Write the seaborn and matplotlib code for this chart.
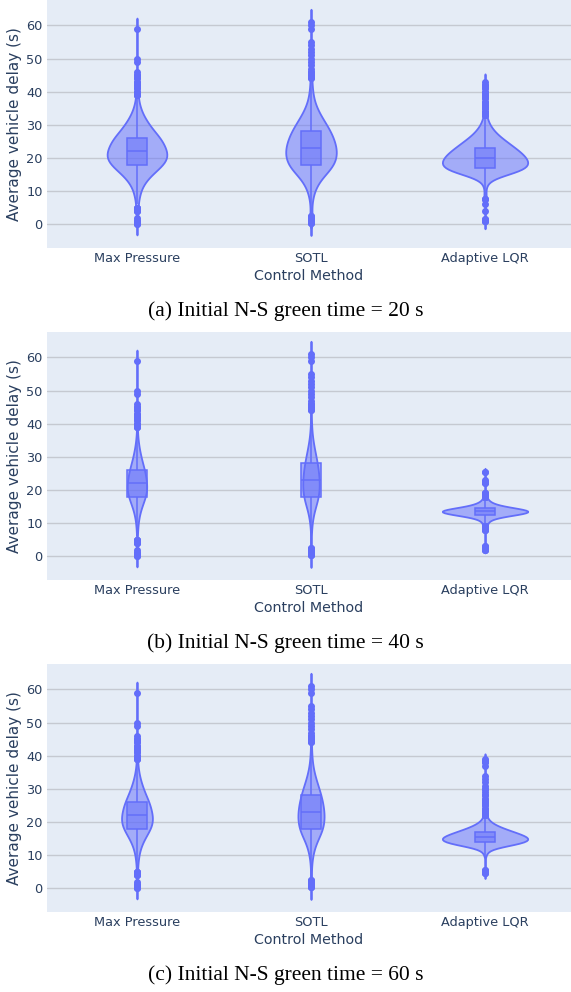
import numpy as np
import pandas as pd
import seaborn as sns
import matplotlib.pyplot as plt
from matplotlib.colors import to_rgb


methods = ["Max Pressure", "SOTL", "Adaptive LQR"]
captions = [
    "(a) Initial N-S green time = 20 s",
    "(b) Initial N-S green time = 40 s",
    "(c) Initial N-S green time = 60 s",
]

# delay values (s) and how often they occur
# Max Pressure and SOTL are the same in all three runs
mp_delay = [0, 1, 2, 4, 5, 6, 7, 8, 9, 10, 11, 12, 13, 14, 15, 16, 17, 18, 19, 20,
            21, 22, 23, 24, 25, 26, 27, 28, 29, 30, 31, 32, 33, 34, 35, 36, 37, 38,
            39, 40, 41, 42, 43, 44, 45, 46, 49, 50, 59]
mp_count = [2, 4, 1, 3, 4, 3, 4, 6, 8, 10, 13, 18, 24, 32, 40, 52, 62, 72, 80, 84,
            84, 82, 78, 74, 70, 64, 56, 48, 40, 34, 28, 22, 17, 13, 10, 7, 5, 4,
            3, 3, 2, 2, 2, 2, 2, 1, 1, 1, 1]

sotl_delay = [0.5, 1, 1.5, 2.5, 3, 4, 5, 6, 7, 8, 9, 10, 11, 12, 13, 14, 15, 16, 17,
              18, 19, 20, 21, 22, 23, 24, 25, 26, 27, 28, 29, 30, 31, 32, 33, 34, 35,
              36, 37, 38, 39, 40, 41, 42, 43, 44, 45, 46, 47, 48, 49, 50, 51, 52, 53,
              54, 55, 59, 60, 61]
sotl_count = [3, 4, 3, 2, 1, 1, 2, 2, 3, 4, 6, 8, 11, 15, 20, 26, 33, 42, 50,
              54, 58, 60, 61, 61, 60, 58, 56, 53, 50, 46, 42, 37, 32, 27, 22, 18, 14,
              11, 8, 6, 5, 4, 3, 3, 2, 2, 2, 2, 1, 1, 1, 1, 1, 1, 1,
              1, 1, 1, 1, 1]

lqr20_delay = [1, 1.5, 4, 6, 7.5, 8, 9, 10, 11, 12, 13, 14, 15, 16, 17, 18, 19, 20,
               21, 22, 23, 24, 25, 26, 27, 28, 29, 30, 31, 32, 33, 34, 35, 36, 37,
               38, 39, 40, 41, 42, 43]
lqr20_count = [4, 2, 1, 1, 3, 4, 2, 2, 3, 5, 10, 28, 60, 95, 115, 118, 118, 112,
               104, 94, 82, 70, 58, 46, 35, 26, 19, 13, 9, 6, 4, 3, 3, 2, 2,
               2, 2, 2, 2, 2, 1]

lqr40_delay = [2, 2.5, 3, 8, 8.5, 9, 9.5, 10, 10.5, 11, 11.5, 12, 12.5, 13, 13.5, 14,
               14.5, 15, 15.5, 16, 16.5, 17, 17.5, 18, 18.5, 19, 22, 22.5, 23, 25.5]
lqr40_count = [3, 4, 2, 3, 5, 7, 8, 10, 14, 22, 40, 70, 110, 150, 165, 150,
               110, 72, 45, 28, 18, 12, 8, 6, 5, 4, 2, 2, 1, 2]

lqr60_delay = [4.5, 5, 5.5, 9.5, 10, 10.5, 11, 11.5, 12, 12.5, 13, 13.5, 14, 14.5, 15,
               15.5, 16, 16.5, 17, 17.5, 18, 18.5, 19, 19.5, 20, 20.5, 21, 21.5, 22,
               22.5, 23, 24, 25, 26, 27, 28, 29, 30, 31, 32, 33, 34, 37, 38, 38.5, 39]
lqr60_count = [3, 5, 2, 2, 3, 4, 6, 10, 20, 40, 65, 90, 105, 112, 112,
               106, 96, 84, 72, 60, 48, 37, 28, 20, 14, 10, 7, 5, 4,
               3, 3, 3, 2, 2, 2, 2, 1, 2, 1, 1, 1, 1, 1, 2, 2, 1]

runs = [
    [(mp_delay, mp_count), (sotl_delay, sotl_count), (lqr20_delay, lqr20_count)],
    [(mp_delay, mp_count), (sotl_delay, sotl_count), (lqr40_delay, lqr40_count)],
    [(mp_delay, mp_count), (sotl_delay, sotl_count), (lqr60_delay, lqr60_count)],
]


def make_frame(groups):
    parts = []
    for name, (vals, cnts) in zip(methods, groups):
        parts.append(pd.DataFrame({"method": name, "delay": np.repeat(vals, cnts)}))
    return pd.concat(parts, ignore_index=True)


blue = "#636efa"
blue_fill = (*to_rgb(blue), 0.5)
text_col = "#2a3f5f"

sns.set_theme(style="dark", rc={"axes.facecolor": "#E5ECF6"})
plt.rcParams["font.family"] = ["DejaVu Sans"]

fig = plt.figure(figsize=(5.71, 9.92), dpi=100)
W, H = 571, 992

for i, groups in enumerate(runs):
    df = make_frame(groups)
    top = 332 * i
    ax = fig.add_axes([47 / W, 1 - (top + 248) / H, 1 - 47 / W, 248 / H])

    sns.violinplot(data=df, x="method", y="delay", order=methods, color=blue,
                   saturation=1, inner=None, density_norm="area", width=0.49,
                   linewidth=1.3, linecolor=blue, cut=2, ax=ax)
    for c in ax.collections:
        c.set_facecolor(blue_fill)
        c.set_edgecolor(blue)

    sns.boxplot(data=df, x="method", y="delay", order=methods, color=blue,
                saturation=1, width=0.12, linewidth=1.1, linecolor=blue, whis=1.5,
                showcaps=False,
                flierprops=dict(marker="o", markersize=4, markerfacecolor=blue,
                                markeredgecolor=blue), ax=ax)
    for p in ax.patches:
        p.set_facecolor(blue_fill)
        p.set_edgecolor(blue)

    ax.set_ylim(-7.2, 67.7)
    ax.set_xlim(-0.517, 2.494)
    ax.set_yticks(range(0, 61, 10))
    ax.yaxis.grid(True, color="#c5c9d1", linewidth=1)
    ax.xaxis.grid(False)
    ax.set_axisbelow(True)
    for s in ax.spines.values():
        s.set_visible(False)
    ax.tick_params(length=0, labelsize=9.3, colors=text_col)
    ax.tick_params(axis="x", pad=3)
    ax.tick_params(axis="y", pad=3)
    ax.set_xlabel("Control Method", fontsize=10.3, color=text_col, labelpad=3)
    ax.set_ylabel("Average vehicle delay (s)", fontsize=11, color=text_col, labelpad=3)

    fig.text(0.5, 1 - (top + 311) / H, captions[i], ha="center", va="center",
             family="Liberation Serif", fontsize=15.5, color="black")

fig.savefig("out.png", dpi=100)
